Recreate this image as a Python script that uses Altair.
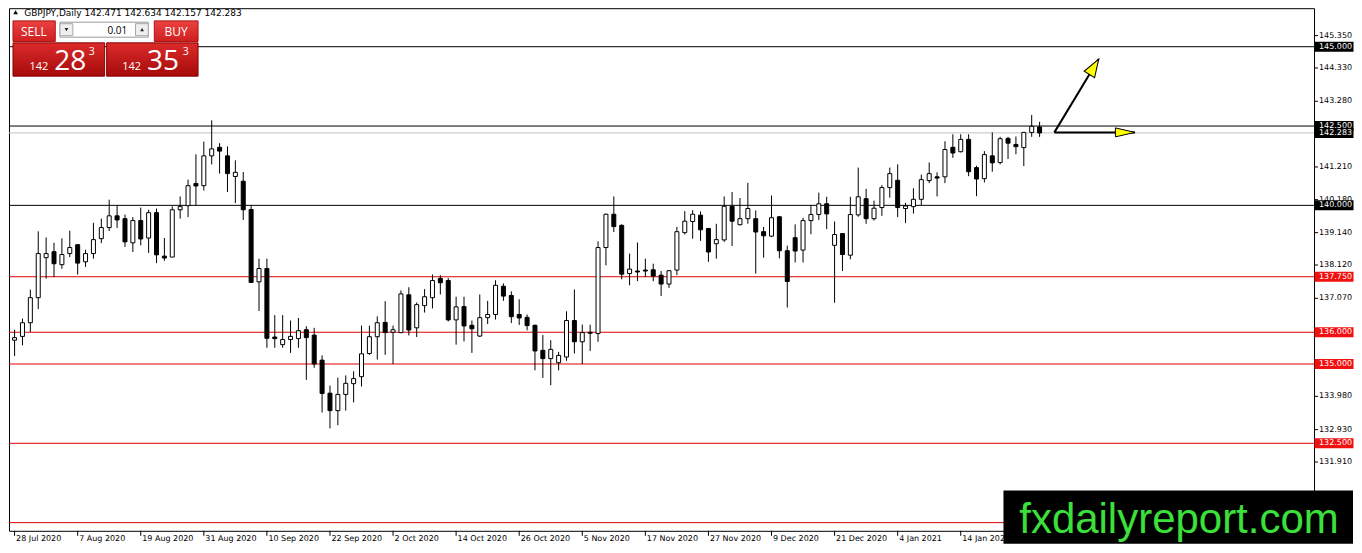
import altair as alt
import pandas as pd

# ------------------------------------------------------------------ data
opens = [135.75, 135.87, 136.30, 137.09, 138.35, 138.54, 138.13, 138.48, 138.76, 138.22,
         138.48, 138.95, 139.30, 139.67, 139.58, 138.82, 139.52, 138.97, 139.77, 138.40,
         138.37, 139.86, 139.99, 140.69, 140.62, 141.56, 141.83, 141.56, 140.91, 140.76,
         139.87, 137.59, 138.01, 135.85, 135.61, 135.77, 135.80, 136.08, 135.91, 135.12,
         134.08, 133.53, 134.04, 134.38, 134.60, 135.33, 135.86, 136.31, 136.00, 135.99,
         137.18, 136.14, 136.84, 137.09, 137.70, 137.63, 136.39, 136.81, 136.22, 135.88,
         136.46, 136.56, 137.45, 137.16, 136.56, 136.47, 136.22, 135.43, 135.17, 135.04,
         135.22, 136.37, 135.70, 136.00, 135.96, 138.67, 139.72, 139.37, 137.85, 137.93,
         137.96, 137.97, 137.80, 137.52, 137.96, 139.14, 139.49, 139.69, 139.27, 138.79,
         138.91, 139.97, 139.39, 139.58, 139.58, 139.17, 139.03, 139.64, 138.57, 138.98,
         138.59, 139.52, 139.71, 140.05, 138.74, 139.11, 138.43, 139.70, 140.21, 139.58,
         139.93, 140.56, 140.79, 139.90, 139.96, 140.19, 140.78, 140.90, 140.90, 141.83,
         141.69, 142.08, 141.19, 140.84, 141.56, 141.35, 142.11, 141.92, 141.82, 142.30,
         142.471]
highs = [136.08, 136.43, 137.34, 139.18, 138.99, 138.82, 138.96, 139.20, 138.78, 138.60,
         139.45, 139.58, 140.18, 139.99, 139.71, 139.63, 139.93, 139.86, 139.90, 138.97,
         139.97, 140.28, 140.81, 141.61, 142.01, 142.68, 141.96, 141.86, 141.42, 141.05,
         140.01, 138.32, 138.32, 136.54, 136.54, 136.37, 136.45, 136.19, 136.14, 135.27,
         134.32, 134.57, 134.64, 134.77, 136.21, 136.21, 136.50, 136.98, 136.21, 137.32,
         137.42, 136.94, 137.36, 137.82, 137.80, 137.71, 137.12, 137.12, 136.37, 137.19,
         136.99, 137.64, 137.54, 137.29, 137.04, 136.56, 136.24, 135.91, 135.75, 135.38,
         136.66, 137.35, 136.24, 136.24, 138.87, 139.74, 140.28, 139.40, 138.48, 138.83,
         138.32, 138.16, 137.93, 137.96, 139.32, 139.82, 139.85, 139.81, 139.29, 139.42,
         140.28, 140.42, 140.23, 140.71, 139.84, 139.32, 140.31, 139.66, 138.73, 139.40,
         139.61, 140.01, 140.40, 140.27, 139.49, 139.12, 140.27, 141.19, 140.52, 140.15,
         140.64, 141.19, 141.29, 140.08, 140.54, 140.97, 141.35, 141.04, 142.02, 142.24,
         142.24, 142.24, 141.25, 141.71, 142.30, 142.16, 142.16, 142.17, 142.31, 142.85,
         142.634]
lows = [135.25, 135.59, 136.01, 136.73, 137.69, 137.74, 138.00, 138.37, 137.82, 138.06,
        138.32, 138.81, 139.19, 139.29, 138.69, 138.53, 138.74, 138.50, 138.18, 138.25,
        138.37, 139.58, 139.63, 139.99, 140.47, 141.29, 141.00, 140.42, 140.07, 139.54,
        137.55, 136.67, 135.51, 135.51, 135.51, 135.35, 135.51, 134.50, 134.88, 133.47,
        132.97, 133.07, 133.53, 133.79, 134.29, 135.29, 135.14, 135.29, 135.00, 135.97,
        135.90, 135.85, 136.62, 136.75, 137.19, 136.34, 135.61, 135.71, 135.35, 135.85,
        136.26, 136.40, 136.99, 136.29, 136.23, 136.06, 134.80, 134.56, 134.33, 134.80,
        135.10, 135.33, 135.00, 135.41, 135.70, 138.11, 139.16, 137.67, 137.48, 137.61,
        137.74, 137.61, 137.14, 137.40, 137.80, 139.08, 138.95, 138.88, 138.22, 138.32,
        138.85, 138.72, 139.37, 139.42, 137.85, 138.35, 139.00, 138.33, 136.78, 138.20,
        138.20, 139.09, 139.54, 139.25, 136.93, 137.93, 138.30, 139.64, 139.42, 139.52,
        139.67, 140.24, 139.63, 139.44, 139.74, 140.01, 140.70, 140.28, 140.70, 141.50,
        141.67, 140.92, 140.29, 140.72, 141.06, 141.29, 141.46, 141.61, 141.24, 142.16,
        142.157]
closes = [135.83, 136.30, 137.09, 138.48, 138.48, 138.16, 138.45, 138.67, 138.18, 138.48,
          138.92, 139.30, 139.67, 139.54, 138.85, 139.52, 138.94, 139.77, 138.44, 138.34,
          139.86, 139.96, 140.62, 140.61, 141.56, 141.78, 141.71, 141.00, 141.04, 139.86,
          137.57, 138.01, 135.81, 135.80, 135.77, 135.87, 136.05, 135.83, 135.00, 134.07,
          133.53, 134.04, 134.39, 134.54, 135.32, 135.86, 136.30, 135.99, 136.08, 137.21,
          136.07, 136.87, 137.12, 137.63, 137.56, 136.39, 136.80, 136.20, 136.11, 136.46,
          136.56, 137.48, 137.14, 136.49, 136.45, 136.21, 135.41, 135.17, 135.46, 135.27,
          136.37, 135.70, 135.99, 135.97, 138.67, 139.72, 139.33, 137.83, 137.99, 137.90,
          137.93, 137.77, 137.52, 137.94, 139.17, 139.50, 139.72, 139.23, 138.53, 138.92,
          139.97, 139.50, 139.58, 139.90, 139.16, 139.04, 139.61, 138.57, 137.60, 138.56,
          139.52, 139.71, 140.05, 139.73, 139.08, 138.45, 139.71, 140.27, 139.58, 139.91,
          140.56, 141.00, 139.93, 139.98, 140.19, 140.81, 141.00, 140.86, 141.76, 141.65,
          142.08, 141.06, 140.83, 141.60, 141.34, 142.10, 141.96, 141.85, 142.30, 142.49,
          142.283]

date_labels = ["28 Jul 2020", "7 Aug 2020", "19 Aug 2020", "31 Aug 2020", "10 Sep 2020",
               "22 Sep 2020", "2 Oct 2020", "14 Oct 2020", "26 Oct 2020", "5 Nov 2020",
               "17 Nov 2020", "27 Nov 2020", "9 Dec 2020", "21 Dec 2020", "4 Jan 2021",
               "14 Jan 2021"]
bars_per_label = 8

black_levels = [145.000, 142.500, 140.000]
red_levels = [137.750, 136.000, 135.000, 132.500, 130.000]
labelled_red_levels = [137.750, 136.000, 135.000, 132.500]
bid_level = 142.283
price_ticks = [145.350, 144.330, 143.280, 141.210, 140.180, 139.140, 138.120,
               137.070, 133.980, 132.930, 131.910]

symbol_title = "GBPJPY,Daily"
title_ohlc = [142.471, 142.634, 142.157, 142.283]
lot_size = "0.01"
sell_quote = ["142", "28", "3"]
buy_quote = ["142", "35", "3"]

arrow_from = [131.875, 142.30]
arrow_up_to = [137.5, 144.61]
arrow_flat_to = [142.09, 142.30]
watermark_text = "fxdailyreport.com"

# ------------------------------------------------------------------ layout
W, H = 1306, 523
XDOM = [-0.075, 164.175]
YDOM = [129.742, 146.214]
FONT = "DejaVu Sans"
PANEL_FONT = "Open Sans"
RED_LINE = "#e00000"
RED_BOX = "#f01010"

xscale = alt.Scale(domain=XDOM, nice=False, zero=False)
yscale = alt.Scale(domain=YDOM, nice=False, zero=False)


def X(field):
    return alt.X(field, scale=xscale, axis=None, title=None)


def Y(field):
    return alt.Y(field, scale=yscale, axis=None, title=None)


df = pd.DataFrame({"i": list(range(len(opens))), "open": opens, "high": highs,
                   "low": lows, "close": closes})
one = pd.DataFrame({"k": [0]})


def rect(x, x2, y, y2, fill, stroke=None, sw=1.0):
    props = {"fill": fill}
    if stroke is not None:
        props.update(stroke=stroke, strokeWidth=sw)
    else:
        props.update(strokeWidth=0)
    return alt.Chart(one).mark_rect(**props).encode(
        x=alt.value(x), x2=alt.value(x2), y=alt.value(y), y2=alt.value(y2))


def label(txt, x, y, size, color="black", align="left", font=FONT, baseline="alphabetic"):
    return alt.Chart(one).mark_text(text=txt, align=align, baseline=baseline, font=font,
                                    fontSize=size, color=color).encode(
        x=alt.value(x), y=alt.value(y))


def grad(top, bottom):
    return alt.LinearGradient(gradient="linear",
                              stops=[alt.GradientStop(color=top, offset=0),
                                     alt.GradientStop(color=bottom, offset=1)],
                              x1=0, x2=0, y1=0, y2=1)


# ---------------- axes drawn from the tick arrays
yt = pd.DataFrame({"p": price_ticks, "txt": ["%.3f" % v for v in price_ticks]})
y_ticks = alt.Chart(yt).mark_rule(color="black", strokeWidth=1).encode(
    y=Y("p:Q"), x=alt.value(W), x2=alt.value(W + 4))
y_labels = alt.Chart(yt).mark_text(align="left", baseline="middle", font=FONT, fontSize=8,
                                   color="black").encode(
    y=Y("p:Q"), x=alt.value(W + 5), text="txt:N")

xt = pd.DataFrame({"pos": [k * bars_per_label for k in range(len(date_labels))],
                   "txt": date_labels})
x_ticks = alt.Chart(xt).mark_rule(color="black", strokeWidth=1).encode(
    x=X("pos:Q"), y=alt.value(H), y2=alt.value(H + 5))
x_labels = alt.Chart(xt).mark_text(align="left", baseline="top", font=FONT, fontSize=8,
                                   color="black", dx=1.5).encode(
    x=X("pos:Q"), y=alt.value(H + 4), text="txt:N")

# ---------------- horizontal levels
lev = pd.DataFrame({"level": black_levels + red_levels,
                    "col": ["black"] * len(black_levels) + [RED_LINE] * len(red_levels)})
level_lines = alt.Chart(lev).mark_rule(strokeWidth=1).encode(
    y=Y("level:Q"), x=alt.value(0), x2=alt.value(W),
    color=alt.Color("col:N", scale=None))
bid_line = alt.Chart(pd.DataFrame({"level": [bid_level]})).mark_rule(
    strokeWidth=1, color="#c0c0c0").encode(y=Y("level:Q"), x=alt.value(0), x2=alt.value(W))

# ---------------- candles
wicks = alt.Chart(df).mark_rule(color="black", strokeWidth=1).encode(
    x=X("i:Q"), y=Y("low:Q"), y2="high:Q")
bodies = alt.Chart(df).mark_bar(size=4, stroke="black", strokeWidth=1).encode(
    x=X("i:Q"), y=Y("open:Q"), y2="close:Q",
    fill=alt.condition("datum.close >= datum.open", alt.value("white"), alt.value("black")))

# ---------------- arrows
arr = pd.DataFrame({"x0": [arrow_from[0]] * 2, "y0": [arrow_from[1]] * 2,
                    "x1": [arrow_up_to[0], arrow_flat_to[0]],
                    "y1": [arrow_up_to[1], arrow_flat_to[1]]})
arrow_lines = alt.Chart(arr).mark_rule(color="black", strokeWidth=2).encode(
    x=X("x0:Q"), y=Y("y0:Q"), x2="x1:Q", y2="y1:Q")
head_up = alt.Chart(pd.DataFrame({"x": [arrow_up_to[0]], "y": [arrow_up_to[1]]})).mark_point(
    shape="M0,0L0.34,1L-0.34,1Z", size=1296, filled=True, fill="#ffff00", stroke="black",
    strokeWidth=1, opacity=1, angle=31.3).encode(x=X("x:Q"), y=Y("y:Q"))
head_flat = alt.Chart(pd.DataFrame({"x": [arrow_flat_to[0]], "y": [arrow_flat_to[1]]})).mark_point(
    shape="M0,0L0.23,1L-0.23,1Z", size=1521, filled=True, fill="#ffff00", stroke="black",
    strokeWidth=1, opacity=1, angle=90).encode(x=X("x:Q"), y=Y("y:Q"))

# ---------------- level price boxes on the axis
box_levels = [black_levels[0], black_levels[1], bid_level, black_levels[2]] + labelled_red_levels
box_fill = ["black", "black", "black", "black"] + [RED_BOX] * len(labelled_red_levels)
boxes = pd.DataFrame({"level": box_levels, "fill": box_fill,
                      "txt": ["%.3f" % v for v in box_levels]})
box_marks = alt.Chart(boxes).mark_point(
    shape="M-1.95,-0.5L1.95,-0.5L1.95,0.5L-1.95,0.5Z", size=400, filled=True, opacity=1,
    strokeWidth=0).encode(
    x=alt.value(W + 20), y=Y("level:Q"), color=alt.Color("fill:N", scale=None))
box_text = alt.Chart(boxes).mark_text(align="left", baseline="middle", font=FONT,
                                      fontSize=8, color="white").encode(
    x=alt.value(W + 5), y=Y("level:Q"), text="txt:N")

# ---------------- header
header_txt = symbol_title + "  " + " ".join("%.3f" % v for v in title_ohlc)
header_tri = alt.Chart(one).mark_point(shape="triangle-up", size=22, filled=True,
                                       color="black", opacity=1).encode(
    x=alt.value(6.6), y=alt.value(4))
header = label(header_txt, 15.2, 7.5, 9)

# ---------------- one-click trading panel
panel = [
    rect(4, 46.3, 12.7, 33.3, grad("#ea4242", "#cf1f1f"), "#b01010"),
    rect(145.4, 189.2, 12.7, 33.3, grad("#ea4242", "#cf1f1f"), "#b01010"),
    rect(51, 139.4, 14, 29, "white", "#9a9a9a"),
    rect(51, 63.9, 15.5, 27.5, "#efefef", "#a8a8a8"),
    rect(126.6, 139.4, 15.5, 27.5, "#efefef", "#a8a8a8"),
    rect(4, 95.7, 34.7, 68, grad("#dc2a2a", "#a50b0b"), "#8a0000"),
    rect(97.7, 189.2, 34.7, 68, grad("#dc2a2a", "#a50b0b"), "#8a0000"),
    alt.Chart(one).mark_point(shape="triangle-down", size=14, filled=True, color="#222",
                              opacity=1).encode(x=alt.value(57.5), y=alt.value(21.5)),
    alt.Chart(one).mark_point(shape="triangle-up", size=14, filled=True, color="#222",
                              opacity=1).encode(x=alt.value(133.2), y=alt.value(21.5)),
    label("SELL", 24.9, 28, 12, "white", "center", PANEL_FONT),
    label("BUY", 167.2, 28, 12, "white", "center", PANEL_FONT),
    label(lot_size, 118.3, 26.3, 10, "black", "right", PANEL_FONT),
    label(sell_quote[0], 20.5, 62, 11, "white", "left", PANEL_FONT),
    label(sell_quote[1], 45.3, 62, 28, "white", "left", PANEL_FONT),
    label(sell_quote[2], 79.8, 47, 10.5, "white", "left", PANEL_FONT),
    label(buy_quote[0], 113.3, 62, 11, "white", "left", PANEL_FONT),
    label(buy_quote[1], 138.2, 62, 28, "white", "left", PANEL_FONT),
    label(buy_quote[2], 173.8, 47, 10.5, "white", "left", PANEL_FONT),
]

# ---------------- watermark
watermark = [
    rect(995.2, W + 39, 482.7, 536, "black"),
    label(watermark_text, 1011, 525, 42, "#3be03b", "left", "Liberation Sans"),
]

chart = alt.layer(
    level_lines, bid_line, wicks, bodies, arrow_lines, head_up, head_flat,
    y_ticks, y_labels, x_ticks, x_labels,
    box_marks, box_text, header_tri, header, *panel, *watermark
).properties(width=W, height=H, padding=0, background="white").configure_view(
    stroke="black", strokeWidth=1)

chart.save("out.html", embed_options={"renderer": "svg", "actions": False})
